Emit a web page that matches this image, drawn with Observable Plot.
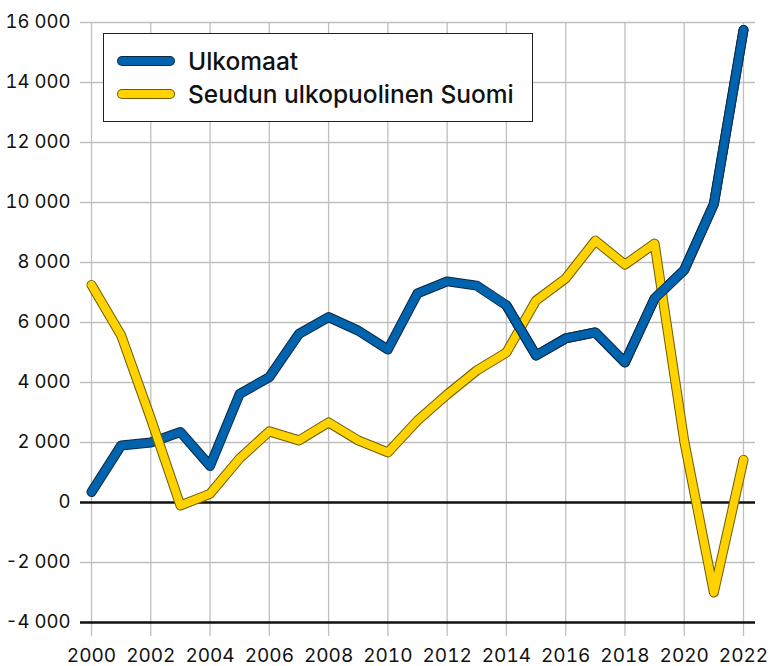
<!DOCTYPE html>
<html>
<head>
<meta charset="utf-8">
<script src="https://cdn.jsdelivr.net/npm/d3@7"></script>
<script src="https://cdn.jsdelivr.net/npm/@observablehq/plot@0.6"></script>
<style>
  html, body { margin: 0; padding: 0; background: #fff; }
  #wrap { position: relative; width: 771px; height: 666px; font-family: Inter, Roboto, sans-serif; }
  #legend { position: absolute; left: 103px; top: 33px; width: 430px; height: 89px; box-sizing: border-box;
            border: 1.3px solid #222; background: #fff; }
  .item { position: absolute; left: 13px; display: flex; align-items: center; height: 30px; }
  .item span { font-size: 24.5px; font-weight: 500; color: #111; margin-left: 13px; }
</style>
</head>
<body>
<div id="wrap">
  <div id="chart"></div>
  <div id="legend"></div>
</div>
<script>
const years = d3.range(2000, 2023);
const seriesNames = ["Ulkomaat", "Seudun ulkopuolinen Suomi"];
const ulkomaat = [350, 1900, 2000, 2350, 1220, 3620, 4180, 5620, 6180, 5730, 5100, 6970, 7370, 7230, 6570, 4900, 5470, 5670, 4670, 6800, 7750, 9950, 15750];
const suomi = [7250, 5570, 2800, -100, 290, 1470, 2370, 2070, 2670, 2070, 1670, 2730, 3600, 4400, 5000, 6730, 7470, 8730, 7930, 8630, 2050, -3000, 1420];
const xTicks = d3.range(2000, 2023, 2);
const yTicks = d3.range(-4000, 16001, 2000);
const colors = ["#0063ae", "#ffd200"];
const outlines = ["#0c2744", "#6f5c00"];

const blue = years.map((y, i) => ({year: y, value: ulkomaat[i]}));
const yellow = years.map((y, i) => ({year: y, value: suomi[i]}));
const blueLate = blue.filter(d => d.year >= 2014);
const blueLateFill = blue.filter(d => d.year >= 2013);

const fmt = d => d3.format(",")(d).replace(/,/g, " ").replace("−", "-");
const lineOpts = (stroke, w) => ({x: "year", y: "value", stroke, strokeWidth: w, strokeLinecap: "round", strokeLinejoin: "round"});

const chart = Plot.plot({
  width: 771,
  height: 666,
  marginLeft: 80,
  marginRight: 16,
  marginTop: 22,
  marginBottom: 44,
  style: {fontFamily: "Inter, Roboto, sans-serif", fontSize: "18px", color: "#111", background: "#fff"},
  x: {domain: [2000, 2022], insetLeft: 11, insetRight: 12, axis: null, label: null},
  y: {domain: [-4000, 16000], axis: null, label: null},
  marks: [
    Plot.ruleY(yTicks.filter(d => d !== 0 && d !== -4000), {stroke: "#bfbfbf", strokeWidth: 1.3}),
    Plot.ruleX(xTicks, {stroke: "#bfbfbf", strokeWidth: 1.3}),
    Plot.axisX({ticks: xTicks, label: null, tickSize: 14, tickPadding: 12, stroke: "#bfbfbf", strokeWidth: 1.3, fill: "#111", tickFormat: d => String(d), fontSize: 19}),
    Plot.axisY({ticks: yTicks, label: null, tickSize: 0, tickPadding: 10, tickFormat: fmt, fill: "#111", fontSize: 18.5}),
    Plot.ruleY([0, -4000], {stroke: "#111", strokeWidth: 2.4}),
    Plot.line(blue, lineOpts(outlines[0], 10)),
    Plot.line(blue, lineOpts(colors[0], 8)),
    Plot.line(yellow, lineOpts(outlines[1], 10)),
    Plot.line(yellow, lineOpts(colors[1], 8)),
    Plot.line(blueLate, lineOpts(outlines[0], 10)),
    Plot.line(blueLateFill, lineOpts(colors[0], 8))
  ]
});
document.getElementById("chart").appendChild(chart);

const legend = document.getElementById("legend");
seriesNames.forEach((name, i) => {
  const item = document.createElement("div");
  item.className = "item";
  item.style.top = (i === 0 ? 12 : 44.5) + "px";
  item.innerHTML = `<svg width="58" height="14"><line x1="5" y1="7" x2="53" y2="7" stroke="${outlines[i]}" stroke-width="10" stroke-linecap="round"/><line x1="5" y1="7" x2="53" y2="7" stroke="${colors[i]}" stroke-width="8" stroke-linecap="round"/></svg><span>${name}</span>`;
  legend.appendChild(item);
});
</script>
</body>
</html>
